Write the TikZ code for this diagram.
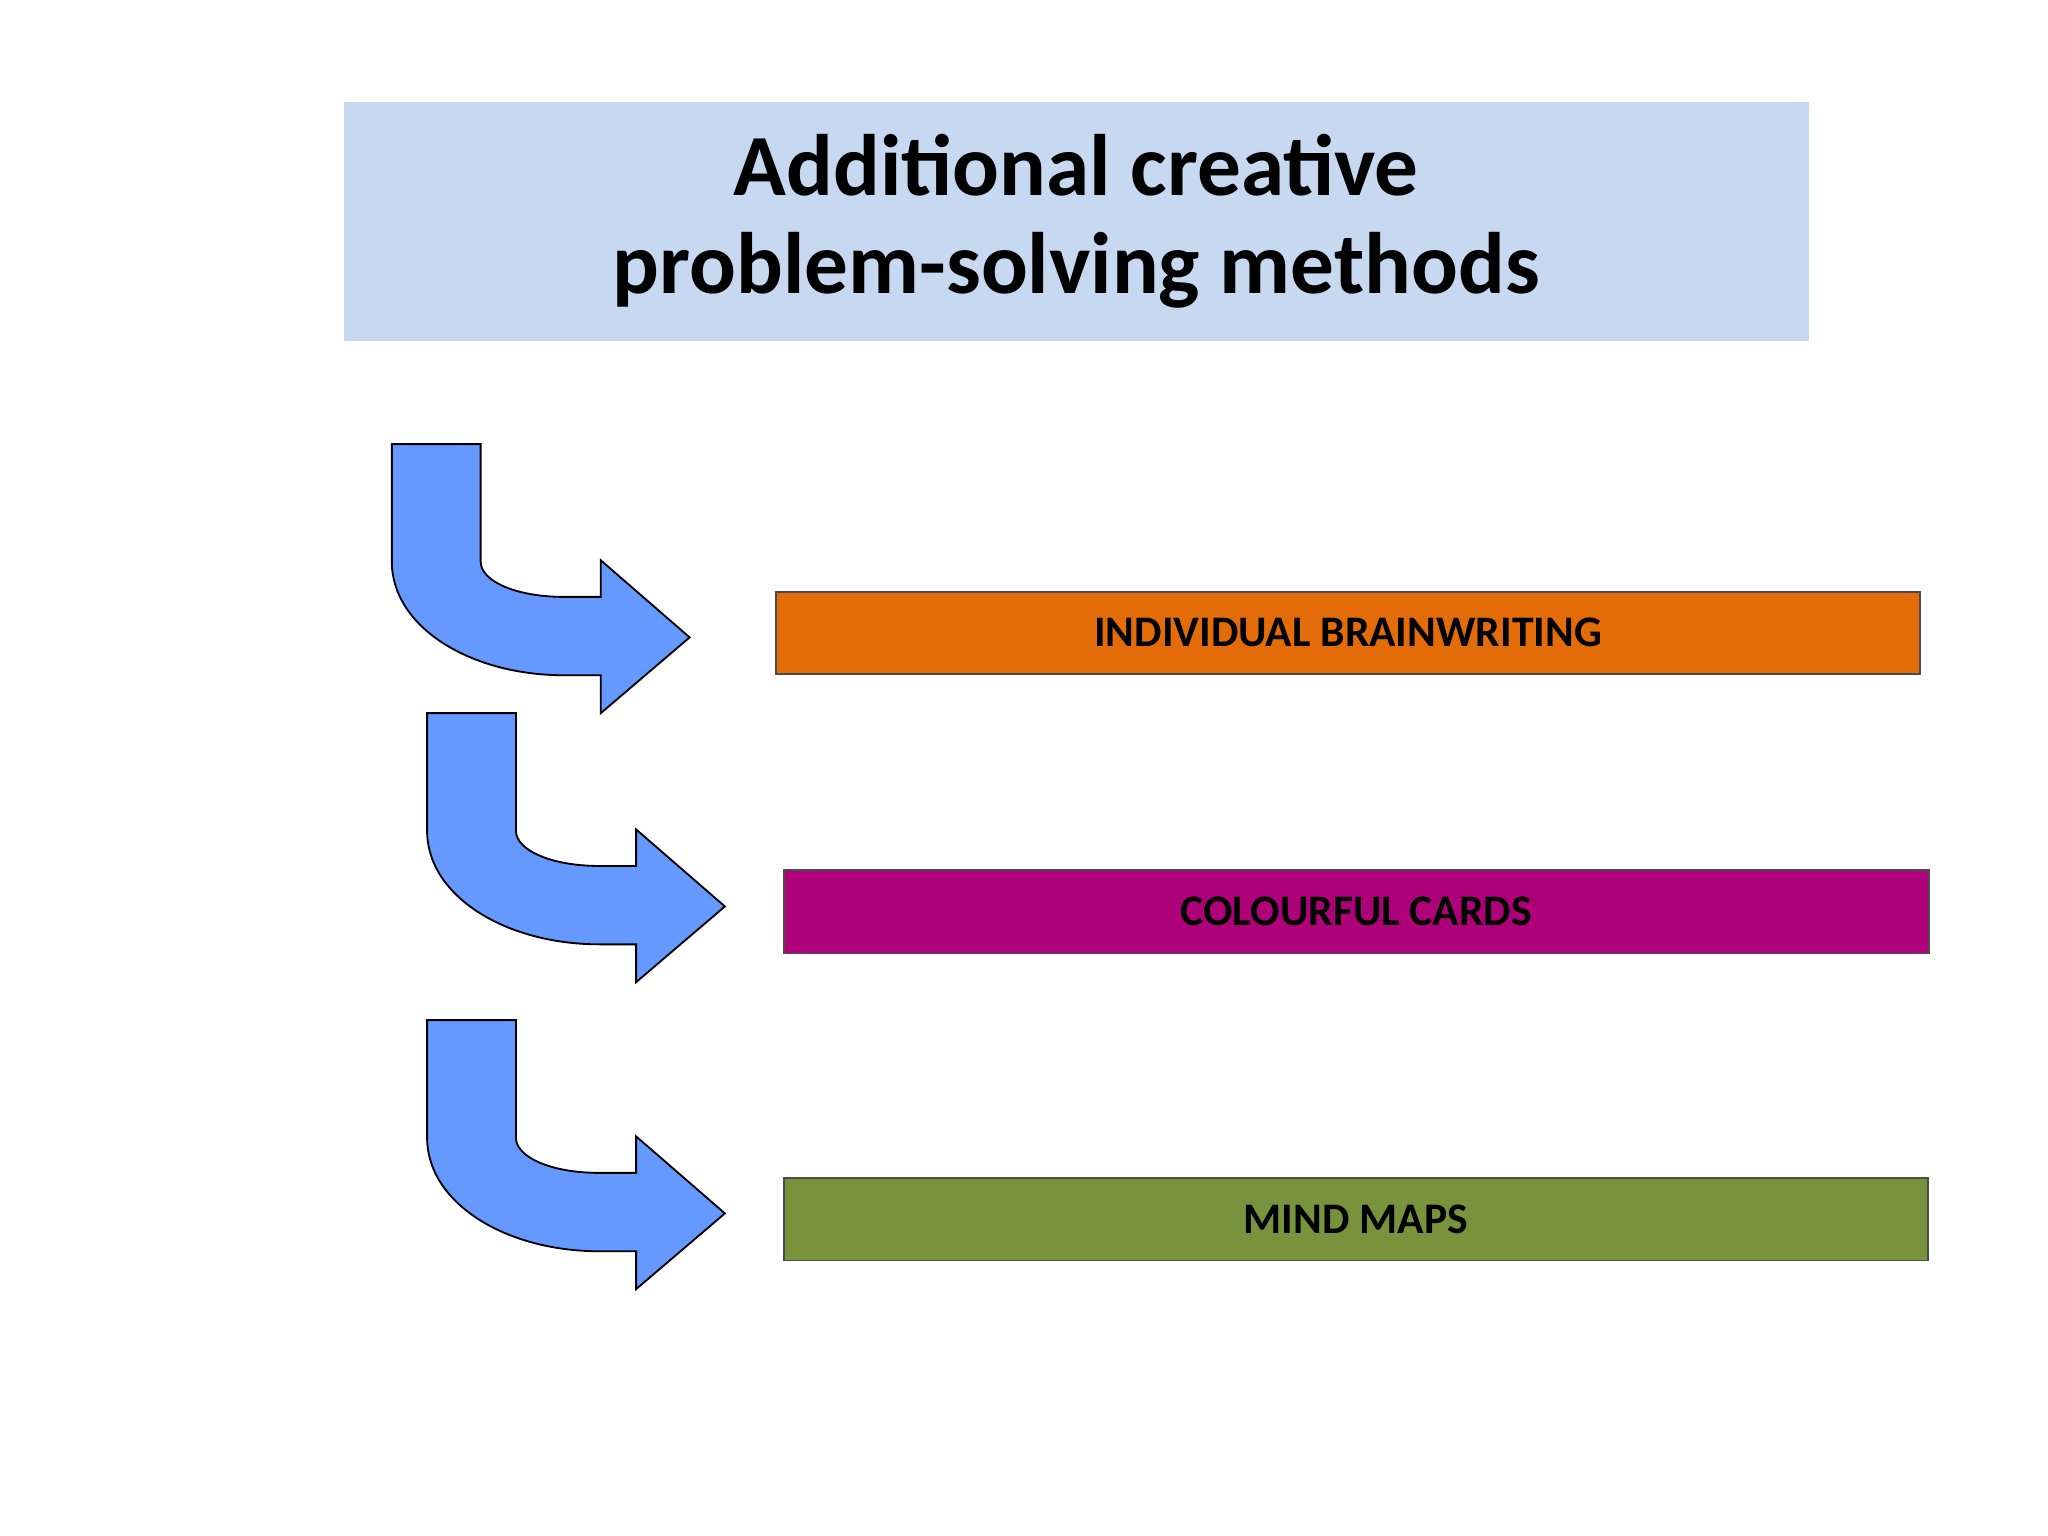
\documentclass[tikz,border=0pt]{standalone}
\usepackage{fontspec}
\setmainfont{Carlito}
\begin{document}
\begin{tikzpicture}[x=0.02cm,y=-0.02cm,
  box/.style={draw=black!70,line width=0.8pt,font=\bfseries\fontsize{19}{22}\selectfont,text=black},
  bent/.style={fill=arrowblue,draw=black,line width=0.8pt,line join=miter},
  pics/bentarrow/.style={code={
    \draw[bent] (0,0) -- (68,0) -- (68,90) .. controls (68,105) and (95,117) .. (132,117)
      -- (160,117) -- (160,89) -- (228,148) -- (160,206) -- (160,177) -- (132,177)
      .. controls (60,177) and (0,140) .. (0,90) -- cycle;}}]
\definecolor{arrowblue}{HTML}{6699FF}
\useasboundingbox (0,0) rectangle (1568,1176);
\fill[white] (0,0) rectangle (1568,1176);
\node[fill={rgb,255:red,198;green,217;blue,241},minimum width=1122*0.02cm,minimum height=183*0.02cm,
  align=center,font=\bfseries\fontsize{38}{43}\selectfont,inner sep=0pt] (title) at (824,169.5)
  {Additional creative\\problem-solving methods};
\node[box,fill={rgb,255:red,227;green,108;blue,9},minimum width=876*0.02cm,minimum height=63*0.02cm] (b1) at (1032,484.5) {INDIVIDUAL BRAINWRITING};
\node[box,fill={rgb,255:red,174;green,0;blue,120},minimum width=877*0.02cm,minimum height=64*0.02cm] (b2) at (1038.5,698) {COLOURFUL CARDS};
\node[box,fill={rgb,255:red,119;green,147;blue,60},minimum width=876*0.02cm,minimum height=63*0.02cm] (b3) at (1038,933.5) {MIND MAPS};
\pic (a1) at (300,340) {bentarrow};
\pic (a2) at (327,546) {bentarrow};
\pic (a3) at (327,781) {bentarrow};
\end{tikzpicture}
\end{document}
